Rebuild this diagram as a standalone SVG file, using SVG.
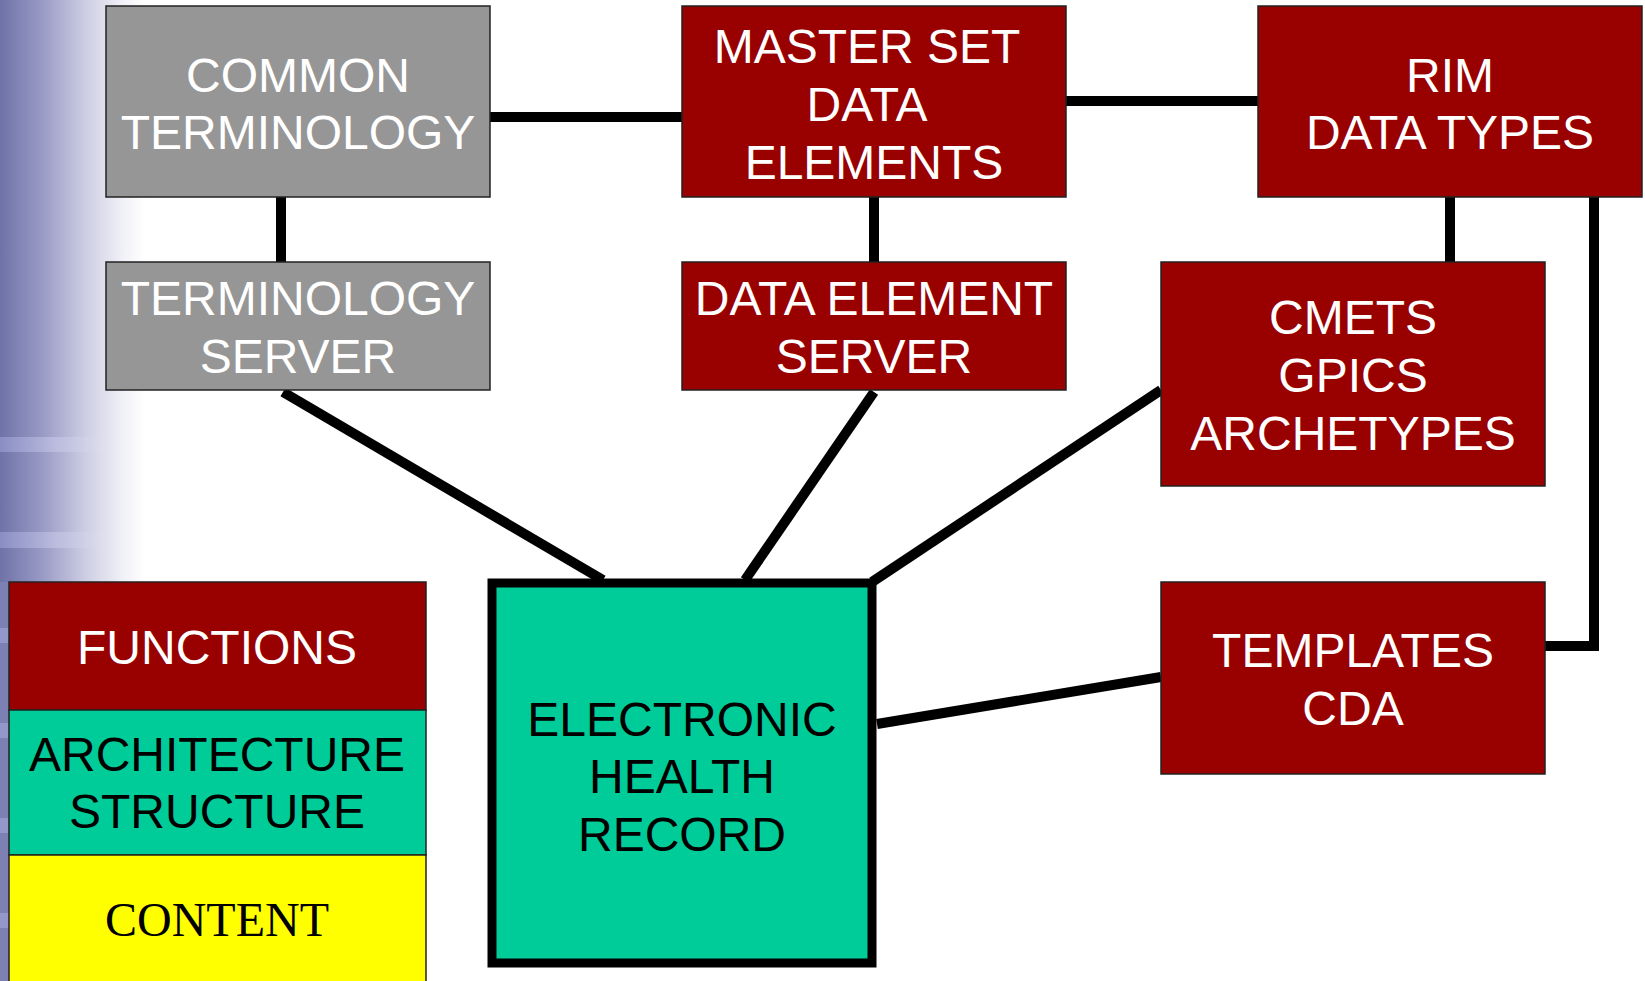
<svg xmlns="http://www.w3.org/2000/svg" width="1645" height="981" viewBox="0 0 1645 981">
<defs>
<linearGradient id="bg" x1="0" y1="0" x2="1" y2="0">
<stop offset="0" stop-color="#6e72a8"/>
<stop offset="0.3" stop-color="#9a9cc6"/>
<stop offset="0.6" stop-color="#cfcfe4"/>
<stop offset="0.85" stop-color="#f1f1f7"/>
<stop offset="1" stop-color="#ffffff"/>
</linearGradient>
<linearGradient id="band" x1="0" y1="0" x2="1" y2="0">
<stop offset="0" stop-color="#9699cf"/>
<stop offset="0.5" stop-color="#c4c5e6"/>
<stop offset="1" stop-color="#e8e8f6" stop-opacity="0"/>
</linearGradient>
<style>
.red{fill:#990000;stroke:#222;stroke-width:1.5}
.gray{fill:#969696;stroke:#222;stroke-width:1.5}
.w{font-family:"Liberation Sans",Arial,sans-serif;font-size:48px;fill:#ffffff;text-anchor:middle}
.b{font-family:"Liberation Sans",Arial,sans-serif;font-size:48px;fill:#000000;text-anchor:middle}
.c{fill:none;stroke:#000;stroke-width:10}
</style>
</defs>
<g id="background">
<rect x="0" y="0" width="145" height="582" fill="url(#bg)"/>
<rect x="0" y="437" width="115" height="15" fill="url(#band)" opacity="0.7"/>
<rect x="0" y="532" width="115" height="16" fill="url(#band)" opacity="0.7"/>
<rect x="0" y="582" width="9" height="399" fill="#7c80b2"/>
<rect x="0" y="628" width="9" height="15" fill="#9497c9"/>
<rect x="0" y="723" width="9" height="15" fill="#9497c9"/>
<rect x="0" y="818" width="9" height="15" fill="#9497c9"/>
<rect x="0" y="913" width="9" height="15" fill="#9497c9"/>
</g>
<g id="connectors">
<line class="c" x1="490" y1="117" x2="682" y2="117"/>
<line class="c" x1="1066" y1="101" x2="1258" y2="101"/>
<line class="c" x1="281" y1="197" x2="281" y2="262"/>
<line class="c" x1="874" y1="197" x2="874" y2="262"/>
<line class="c" x1="1450" y1="197" x2="1450" y2="262"/>
<polyline class="c" points="1594,197 1594,646 1545,646"/>
<line class="c" x1="283" y1="392" x2="603" y2="580"/>
<line class="c" x1="874" y1="392" x2="745" y2="580"/>
<line class="c" x1="1161" y1="390" x2="872" y2="582"/>
<line class="c" x1="1161" y1="677" x2="877" y2="724"/>
</g>
<g id="common-terminology">
<rect class="gray" x="106" y="6" width="384" height="191"/>
<text class="w" x="298" y="92">COMMON</text>
<text class="w" x="298" y="149">TERMINOLOGY</text>
</g>
<g id="master-set">
<rect class="red" x="682" y="6" width="384" height="191"/>
<text class="w" x="867" y="63">MASTER SET</text>
<text class="w" x="867" y="121">DATA</text>
<text class="w" x="874" y="179">ELEMENTS</text>
</g>
<g id="rim">
<rect class="red" x="1258" y="6" width="384" height="191"/>
<text class="w" x="1450" y="92">RIM</text>
<text class="w" x="1450" y="149">DATA TYPES</text>
</g>
<g id="terminology-server">
<rect class="gray" x="106" y="262" width="384" height="128"/>
<text class="w" x="298" y="315">TERMINOLOGY</text>
<text class="w" x="298" y="373">SERVER</text>
</g>
<g id="data-element-server">
<rect class="red" x="682" y="262" width="384" height="128"/>
<text class="w" x="874" y="315">DATA ELEMENT</text>
<text class="w" x="874" y="373">SERVER</text>
</g>
<g id="cmets">
<rect class="red" x="1161" y="262" width="384" height="224"/>
<text class="w" x="1353" y="334">CMETS</text>
<text class="w" x="1353" y="392">GPICS</text>
<text class="w" x="1353" y="450">ARCHETYPES</text>
</g>
<g id="templates">
<rect class="red" x="1161" y="582" width="384" height="192"/>
<text class="w" x="1353" y="667">TEMPLATES</text>
<text class="w" x="1353" y="725">CDA</text>
</g>
<g id="ehr">
<rect x="492" y="583" width="380" height="380" fill="#00cc99" stroke="#000" stroke-width="9"/>
<text class="b" x="682" y="736">ELECTRONIC</text>
<text class="b" x="682" y="793">HEALTH</text>
<text class="b" x="682" y="851">RECORD</text>
</g>
<g id="legend">
<rect x="9" y="582" width="417" height="128" fill="#990000" stroke="#222" stroke-width="1.5"/>
<text class="w" x="217" y="664">FUNCTIONS</text>
<rect x="9" y="710" width="417" height="145" fill="#00cc99" stroke="#222" stroke-width="1.5"/>
<text class="b" x="217" y="771">ARCHITECTURE</text>
<text class="b" x="217" y="828">STRUCTURE</text>
<rect x="9" y="855" width="417" height="140" fill="#ffff00" stroke="#222" stroke-width="1.5"/>
<text x="217" y="936" font-family="'Liberation Serif','Times New Roman',serif" font-size="48" text-anchor="middle" fill="#000">CONTENT</text>
</g>
</svg>
